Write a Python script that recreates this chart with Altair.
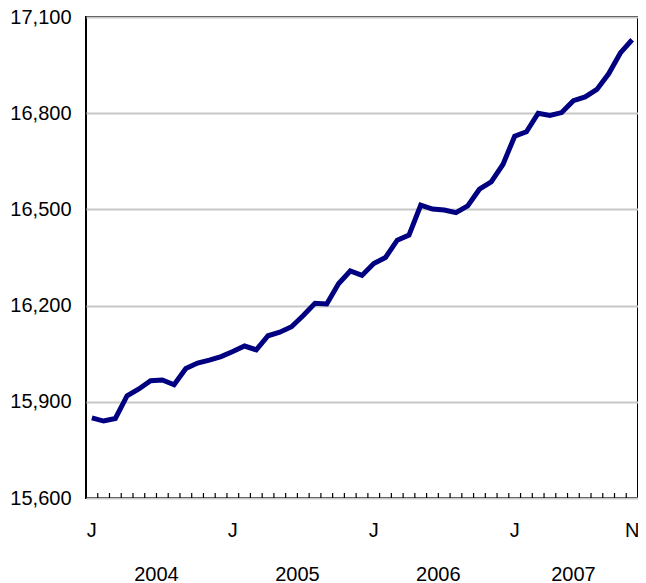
import pandas as pd
import altair as alt

# Monthly values, Jan 2004 - Nov 2007
values_2004 = [15850, 15840, 15848, 15919, 15940, 15966, 15968, 15953, 16004, 16021, 16030, 16041]
values_2005 = [16057, 16074, 16062, 16106, 16117, 16134, 16169, 16207, 16205, 16268, 16308, 16294]
values_2006 = [16331, 16350, 16404, 16420, 16513, 16501, 16498, 16490, 16511, 16563, 16586, 16640]
values_2007 = [16728, 16742, 16800, 16793, 16802, 16839, 16851, 16874, 16923, 16988, 17029]

years = [2004, 2005, 2006, 2007]
month_letters = ["J", "F", "M", "A", "M", "J", "J", "A", "S", "O", "N", "D"]
y_ticks = [15600, 15900, 16200, 16500, 16800, 17100]

rows = []
for year, vals in zip(years, [values_2004, values_2005, values_2006, values_2007]):
    for m, v in enumerate(vals):
        rows.append({"year": str(year), "month": m, "value": v})
df = pd.DataFrame(rows)
df["idx"] = range(len(df))
# label only January and the final month
df["label"] = [month_letters[m] if (m == 0 or i == len(df) - 1) else ""
               for i, m in enumerate(df["month"])]
df["boundary"] = df["idx"] + 0.5

font = "Liberation Sans"
x_scale = alt.Scale(domain=[-0.5, len(df) - 0.5], nice=False, zero=False)
y_scale = alt.Scale(domain=[15600, 17100], nice=False, zero=False)

base = alt.Chart(df)

line = base.mark_line(color="#000080", strokeWidth=5).encode(
    x=alt.X("idx:Q", scale=x_scale, axis=None),
    y=alt.Y("value:Q", scale=y_scale,
            axis=alt.Axis(values=y_ticks, format=",.0f", title=None, grid=True,
                          gridColor="#c8c8c8", gridWidth=2, domain=False,
                          ticks=False, labelFontSize=20, labelFont=font,
                          labelColor="black", labelPadding=15)),
)

# small inward ticks between months along the bottom
ticks = base.transform_filter(
    alt.datum.idx < len(df) - 1
).mark_rule(color="black", strokeWidth=1.2).encode(
    x=alt.X("boundary:Q", scale=x_scale),
    y=alt.value(481),
    y2=alt.value(476),
)

month_text = base.transform_filter(
    alt.datum.label != ""
).mark_text(font=font, fontSize=20, color="black", baseline="alphabetic").encode(
    x=alt.X("idx:Q", scale=x_scale),
    y=alt.value(520),
    text="label:N",
)

year_text = base.transform_aggregate(
    center="mean(idx)", groupby=["year"]
).mark_text(font=font, fontSize=20, color="black", baseline="alphabetic").encode(
    x=alt.X("center:Q", scale=x_scale),
    y=alt.value(564),
    text="year:N",
)

chart = alt.layer(line, ticks, month_text, year_text).properties(
    width=552,
    height=481,
    autosize=alt.AutoSizeParams(type="none"),
    padding={"left": 78, "top": 9, "right": 0, "bottom": 84},
    background="white",
).configure_view(
    stroke="black",
    strokeWidth=2,
)

chart.save("out.html", embed_options={"renderer": "svg", "actions": False})
